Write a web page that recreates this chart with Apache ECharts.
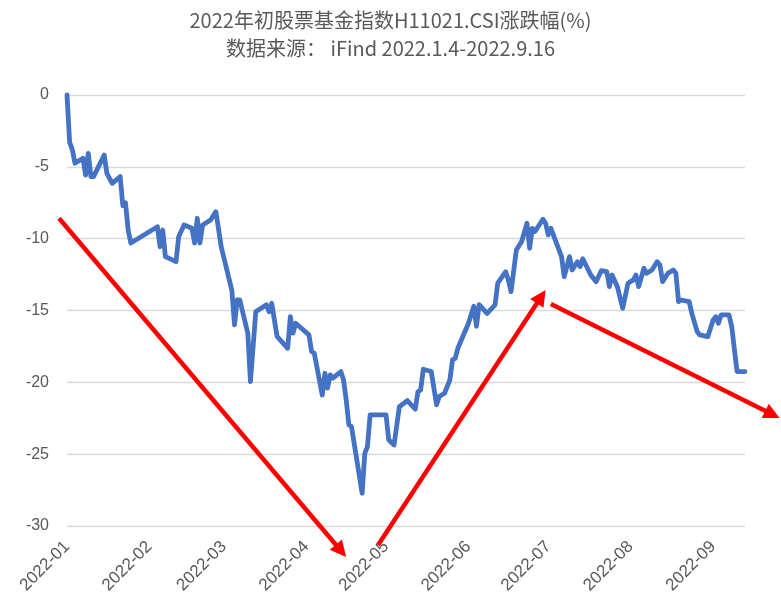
<!DOCTYPE html>
<html>
<head>
<meta charset="utf-8">
<script src="https://cdn.jsdelivr.net/npm/echarts@6/dist/echarts.min.js"></script>
<style>html,body{margin:0;padding:0;background:#fff}#c{width:781px;height:611px}</style>
</head>
<body>
<div id="c"></div>
<script>
const titleText = '2022年初股票基金指数H11021.CSI涨跌幅(%)\n数据来源： iFind 2022.1.4-2022.9.16';
const dates = [
'2022-01-04','2022-01-05','2022-01-06','2022-01-07','2022-01-10','2022-01-11','2022-01-12','2022-01-13','2022-01-14','2022-01-18',
'2022-01-19','2022-01-21','2022-01-24','2022-01-25','2022-01-26','2022-01-27','2022-01-28','2022-02-07','2022-02-08','2022-02-09',
'2022-02-10','2022-02-14','2022-02-15','2022-02-17','2022-02-20','2022-02-21','2022-02-22','2022-02-23','2022-02-24','2022-02-27',
'2022-03-01','2022-03-03','2022-03-07','2022-03-08','2022-03-09','2022-03-10','2022-03-13','2022-03-14','2022-03-16','2022-03-20',
'2022-03-21','2022-03-22','2022-03-24','2022-03-28','2022-03-29','2022-03-30','2022-03-31','2022-04-05','2022-04-06','2022-04-07',
'2022-04-10','2022-04-11','2022-04-12','2022-04-13','2022-04-14','2022-04-17','2022-04-18','2022-04-19','2022-04-20','2022-04-21',
'2022-04-25','2022-04-26','2022-04-27','2022-04-28','2022-05-04','2022-05-05','2022-05-07','2022-05-09','2022-05-12','2022-05-15',
'2022-05-16','2022-05-17','2022-05-18','2022-05-21','2022-05-23','2022-05-24','2022-05-26','2022-05-28','2022-05-29','2022-05-30',
'2022-05-31','2022-06-04','2022-06-06','2022-06-07','2022-06-08','2022-06-11','2022-06-14','2022-06-15','2022-06-18','2022-06-19',
'2022-06-20','2022-06-22','2022-06-24','2022-06-26','2022-06-27','2022-06-28','2022-06-29','2022-07-02','2022-07-03','2022-07-04',
'2022-07-05','2022-07-09','2022-07-10','2022-07-12','2022-07-13','2022-07-15','2022-07-16','2022-07-17','2022-07-20','2022-07-22',
'2022-07-24','2022-07-26','2022-07-27','2022-07-28','2022-07-30','2022-08-01','2022-08-03','2022-08-05','2022-08-06','2022-08-07',
'2022-08-09','2022-08-10','2022-08-12','2022-08-14','2022-08-15','2022-08-16','2022-08-18','2022-08-20','2022-08-21','2022-08-22',
'2022-08-23','2022-08-26','2022-08-27','2022-08-29','2022-08-30','2022-09-02','2022-09-04','2022-09-05','2022-09-06','2022-09-07',
'2022-09-10','2022-09-11','2022-09-13','2022-09-16'
];
const values = [
0,-3.3,-3.8,-4.75,-4.4,-5.57,-4.06,-5.68,-5.68,-4.18,
-5.45,-6.15,-5.68,-7.7,-7.5,-9.4,-10.3,-9.17,-10.56,-9.4,
-11.25,-11.6,-9.86,-9.05,-9.28,-10.3,-8.58,-10.3,-9.05,-8.7,
-8.12,-10.56,-13.6,-16.0,-14.27,-14.27,-16.58,-19.95,-15.08,-14.6,
-15.08,-14.5,-16.8,-17.63,-15.43,-16.58,-15.89,-16.7,-17.86,-17.98,
-20.88,-19.37,-20.4,-19.48,-19.7,-19.25,-19.83,-21.2,-22.96,-23.08,
-27.72,-24.94,-24.47,-22.27,-22.27,-24.0,-24.36,-21.7,-21.27,-21.87,
-20.65,-20.53,-19.09,-19.25,-21.57,-20.99,-20.76,-19.83,-18.44,-18.33,
-17.63,-15.89,-14.7,-16.1,-14.6,-15.2,-14.61,-13.1,-12.3,-12.87,
-13.69,-10.79,-10.2,-8.93,-10.67,-9.28,-9.5,-8.65,-8.93,-9.74,
-9.28,-11.25,-12.64,-11.25,-12.18,-11.6,-11.95,-11.4,-12.53,-12.99,
-12.22,-12.3,-13.34,-12.53,-13.34,-14.84,-13.1,-12.87,-12.53,-13.34,
-12.06,-12.41,-12.18,-11.6,-11.83,-12.99,-12.41,-12.18,-12.41,-14.38,
-14.27,-14.38,-15.2,-16.47,-16.7,-16.82,-15.66,-15.43,-15.89,-15.31,
-15.31,-16.12,-19.25,-19.25
];
const tickDates = ['2022-01-04','2022-02-04','2022-03-04','2022-04-04','2022-05-04','2022-06-04','2022-07-04','2022-08-04','2022-09-04'];
const yMin = -30, yMax = 0, yStep = 5;
const xMin = '2022-01-04', xMax = '2022-09-16';
// annotation arrows: [start date, start value, tip date, tip value]
const arrows = [
  ['2022-01-01', -8.58, '2022-04-19', -32.15],
  ['2022-05-01', -31.32, '2022-07-03', -13.57],
  ['2022-07-05', -14.54, '2022-09-29', -22.48]
];

const chart = echarts.init(document.getElementById('c'), null, {renderer: 'canvas'});
const ts = s => Date.UTC(+s.slice(0, 4), +s.slice(5, 7) - 1, +s.slice(8, 10));
const fmt = v => { const d = new Date(v); return d.getUTCFullYear() + '-' + String(d.getUTCMonth() + 1).padStart(2, '0'); };
const font = "'Liberation Sans','Noto Sans CJK SC',sans-serif";
chart.setOption({
  animation: false,
  backgroundColor: '#fff',
  title: {
    text: titleText, left: 'center', top: 1,
    textStyle: {fontSize: 20, fontWeight: 'normal', color: '#595959', lineHeight: 28, fontFamily: "'Noto Sans CJK SC',sans-serif"}
  },
  grid: {left: 67, right: 36, top: 95, bottom: 85, containLabel: false},
  xAxis: {
    type: 'value', min: ts(xMin), max: ts(xMax), scale: true,
    axisLine: {show: false}, axisTick: {show: false}, splitLine: {show: false},
    axisLabel: {
      customValues: tickDates.map(ts), rotate: 45, margin: 18,
      color: '#595959', fontSize: 17, fontFamily: font, formatter: fmt
    }
  },
  yAxis: {
    type: 'value', min: yMin, max: yMax, interval: yStep,
    axisLine: {show: false}, axisTick: {show: false},
    splitLine: {lineStyle: {color: '#d9d9d9', width: 1.3}},
    axisLabel: {color: '#595959', fontSize: 16, fontFamily: font, margin: 18}
  },
  series: [{
    type: 'line', clip: false, symbol: 'none', silent: true,
    data: dates.map((d, i) => [ts(d), values[i]]),
    lineStyle: {color: '#4472C4', width: 4.8, cap: 'round', join: 'round'}
  }]
});

// arrows placed through the chart's own scales
const headLen = 16, headHalf = 8;
const elements = [];
arrows.forEach(a => {
  const p0 = chart.convertToPixel({gridIndex: 0}, [ts(a[0]), a[1]]);
  const p1 = chart.convertToPixel({gridIndex: 0}, [ts(a[2]), a[3]]);
  const dx = p1[0] - p0[0], dy = p1[1] - p0[1];
  const len = Math.hypot(dx, dy), ux = dx / len, uy = dy / len;
  const bx = p1[0] - ux * headLen, by = p1[1] - uy * headLen;
  elements.push({
    type: 'line', silent: true, z: 100,
    shape: {x1: p0[0], y1: p0[1], x2: bx + ux * 2, y2: by + uy * 2},
    style: {stroke: '#FF0000', lineWidth: 4.5}
  });
  elements.push({
    type: 'polygon', silent: true, z: 100,
    shape: {points: [[p1[0], p1[1]], [bx - uy * headHalf, by + ux * headHalf], [bx + uy * headHalf, by - ux * headHalf]]},
    style: {fill: '#FF0000'}
  });
});
chart.setOption({graphic: {elements: elements}});
</script>
</body>
</html>
